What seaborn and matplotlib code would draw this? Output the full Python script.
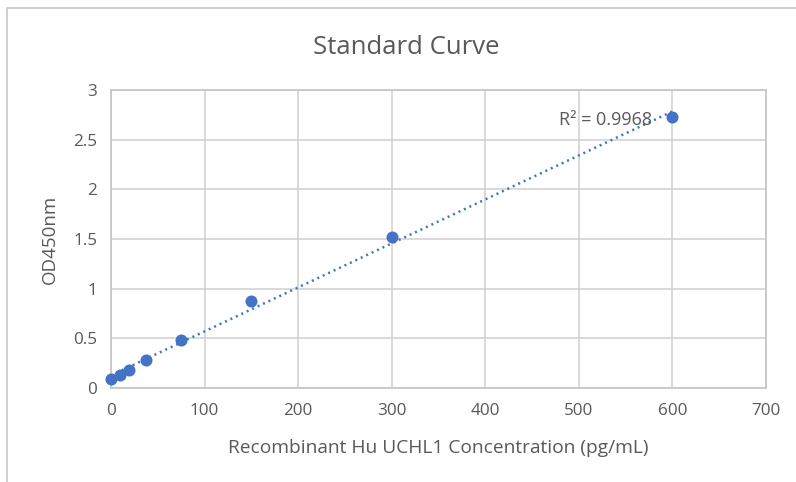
import numpy as np
import pandas as pd
import seaborn as sns
import matplotlib.pyplot as plt
from matplotlib.lines import Line2D

# dados da curva padrão
concentracao = [0, 9.375, 18.75, 37.5, 75, 150, 300, 600]
od450 = [0.09, 0.13, 0.18, 0.28, 0.48, 0.88, 1.52, 2.73]
r2_texto = "R² = 0.9968"

df = pd.DataFrame({'conc': concentracao, 'od': od450})

sns.set_theme(style='white')
plt.rcParams['font.family'] = ['Open Sans', 'DejaVu Sans']
cinza = '#595959'
azul = '#4472C4'

fig = plt.figure(figsize=(7.96, 4.82), dpi=100)
ax = fig.add_axes([111/796, 1-388/482, (766-111)/796, (388-90)/482])

# linha de tendência linear
coef = np.polyfit(df['conc'], df['od'], 1)
xs = np.array([df['conc'].min(), df['conc'].max()])
ax.plot(xs, np.polyval(coef, xs), linestyle=(0, (0.8, 1.6)), color=azul, lw=1.8, zorder=2)

sns.scatterplot(data=df, x='conc', y='od', ax=ax, color=azul, s=75,
                edgecolor=azul, linewidth=0, zorder=3, clip_on=False)

ax.set_xlim(0, 700)
ax.set_ylim(0, 3)
ax.set_xticks(range(0, 701, 100))
ax.set_yticks([0, 0.5, 1, 1.5, 2, 2.5, 3])
ax.set_yticklabels(['0', '0.5', '1', '1.5', '2', '2.5', '3'])
ax.grid(True, color='#cfcfcf', lw=1.1)
for s in ax.spines.values():
    s.set_color('#c4c4c4')
    s.set_linewidth(1.2)
ax.tick_params(colors=cinza, labelsize=12.3, length=0)
ax.tick_params(axis='x', pad=11)
ax.tick_params(axis='y', pad=10)
ax.set_xlabel('Recombinant Hu UCHL1 Concentration (pg/mL)', color=cinza, fontsize=13.8, labelpad=14)
ax.set_ylabel('OD450nm', color=cinza, fontsize=13.5, labelpad=10)

ax.text(578, 2.70, r2_texto, color=cinza, fontsize=13, ha='right', va='center')

fig.text(406/796, 1-47/482, 'Standard Curve', color=cinza, fontsize=18.5,
         ha='center', va='center')

# moldura do gráfico
fig.add_artist(Line2D([7/796, 7/796], [0, 1-8/482], color='#c8c8c8', lw=1.2,
                      transform=fig.transFigure))
fig.add_artist(Line2D([7/796, 1], [1-8/482, 1-8/482], color='#c8c8c8', lw=1.2,
                      transform=fig.transFigure))

fig.savefig('out.png', dpi=100)
